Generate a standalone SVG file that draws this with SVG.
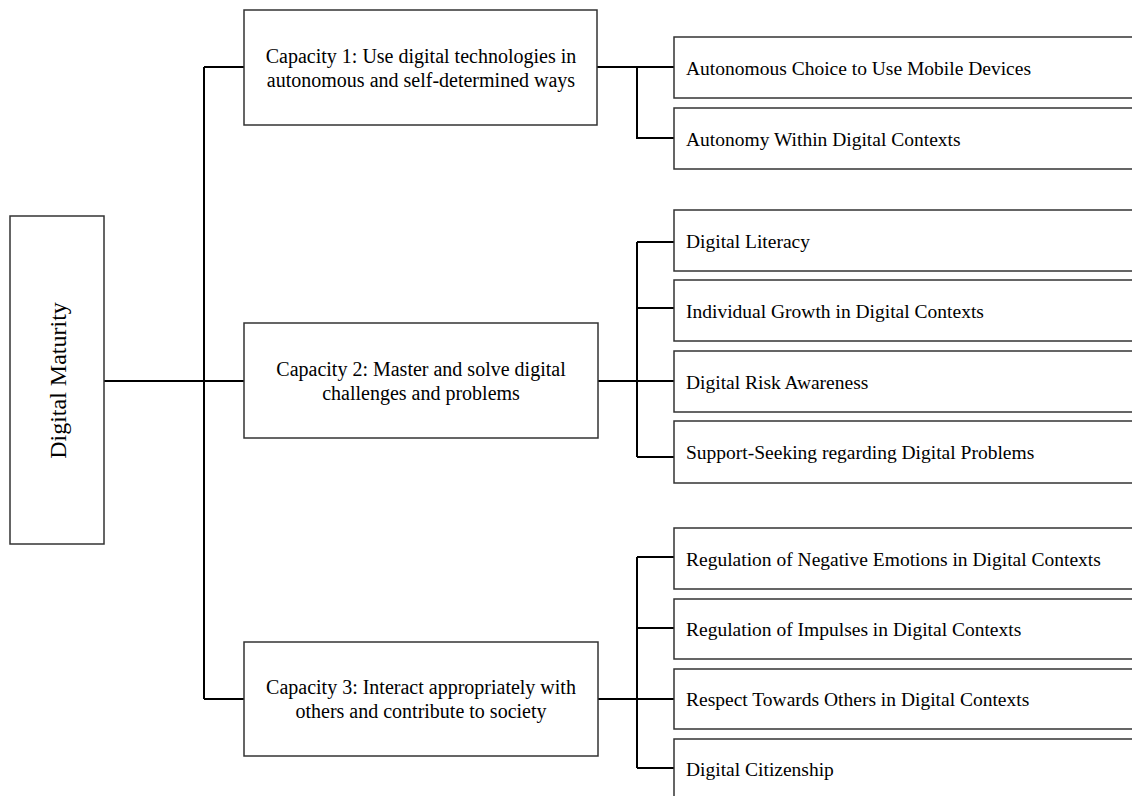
<svg xmlns="http://www.w3.org/2000/svg" width="1132" height="796" viewBox="0 0 1132 796">
<style>
.box{fill:#fff;stroke:#333;stroke-width:1.5}
.conn{fill:none;stroke:#000;stroke-width:2}
text{font-family:"Liberation Serif","Times New Roman",serif;fill:#000}
.cap{font-size:20px;text-anchor:middle}
.leaf{font-size:19.5px}
.root{font-size:24px;text-anchor:middle}
</style>
<rect width="1132" height="796" fill="#fff"/>
<g id="connectors">
<path class="conn" d="M104,381 H244 M204,67 V699 M204,67 H244 M204,699 H244"/>
<path class="conn" d="M597,67 H674 M637,67 V138 H674"/>
<path class="conn" d="M598,381 H674 M637,242 V457 M637,242 H674 M637,308 H674 M637,457 H674"/>
<path class="conn" d="M598,699 H674 M637,557 V768 M637,557 H674 M637,628 H674 M637,768 H674"/>
</g>
<g id="root">
<rect class="box" x="10" y="216" width="94" height="328"/>
<text class="root" transform="translate(66,380.5) rotate(-90)">Digital Maturity</text>
</g>
<g id="cap1">
<rect class="box" x="244" y="10" width="353" height="115"/>
<text class="cap" x="421" y="63">Capacity 1: Use digital technologies in</text>
<text class="cap" x="421" y="87">autonomous and self-determined ways</text>
</g>
<g id="cap2">
<rect class="box" x="244" y="323" width="354" height="115"/>
<text class="cap" x="421" y="376">Capacity 2: Master and solve digital</text>
<text class="cap" x="421" y="400">challenges and problems</text>
</g>
<g id="cap3">
<rect class="box" x="244" y="642" width="354" height="114"/>
<text class="cap" x="421" y="694">Capacity 3: Interact appropriately with</text>
<text class="cap" x="421" y="718">others and contribute to society</text>
</g>
<g id="leaf1"><rect class="box" x="674" y="37" width="470" height="61"/><text class="leaf" x="686" y="75">Autonomous Choice to Use Mobile Devices</text></g>
<g id="leaf2"><rect class="box" x="674" y="108" width="470" height="61"/><text class="leaf" x="686" y="146">Autonomy Within Digital Contexts</text></g>
<g id="leaf3"><rect class="box" x="674" y="210" width="470" height="61"/><text class="leaf" x="686" y="248">Digital Literacy</text></g>
<g id="leaf4"><rect class="box" x="674" y="280" width="470" height="61"/><text class="leaf" x="686" y="318">Individual Growth in Digital Contexts</text></g>
<g id="leaf5"><rect class="box" x="674" y="351" width="470" height="61"/><text class="leaf" x="686" y="389">Digital Risk Awareness</text></g>
<g id="leaf6"><rect class="box" x="674" y="421" width="470" height="62"/><text class="leaf" x="686" y="459">Support-Seeking regarding Digital Problems</text></g>
<g id="leaf7"><rect class="box" x="674" y="528" width="470" height="61"/><text class="leaf" x="686" y="566">Regulation of Negative Emotions in Digital Contexts</text></g>
<g id="leaf8"><rect class="box" x="674" y="599" width="470" height="60"/><text class="leaf" x="686" y="636">Regulation of Impulses in Digital Contexts</text></g>
<g id="leaf9"><rect class="box" x="674" y="669" width="470" height="60"/><text class="leaf" x="686" y="706">Respect Towards Others in Digital Contexts</text></g>
<g id="leaf10"><rect class="box" x="674" y="739" width="470" height="61"/><text class="leaf" x="686" y="776">Digital Citizenship</text></g>
</svg>
